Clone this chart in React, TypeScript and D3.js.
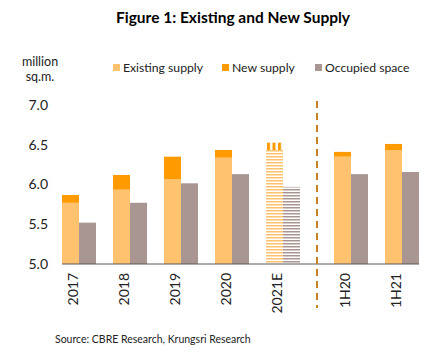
import React from "react";
import * as d3 from "d3";

const categories = ["2017", "2018", "2019", "2020", "2021E", "1H20", "1H21"];
const existingSupply = [5.77, 5.935, 6.065, 6.337, 6.434, 6.35, 6.434];
const totalSupply = [5.868, 6.12, 6.35, 6.434, 6.526, 6.41, 6.51];
const occupiedSpace = [5.52, 5.77, 6.015, 6.13, 5.97, 6.13, 6.157];
const estimateCategory = "2021E";
const halfYearCategories = ["1H20", "1H21"];
const yTicks = [5.0, 5.5, 6.0, 6.5, 7.0];
const legendItems = ["Existing supply", "New supply", "Occupied space"];

const C_EXIST = "#FFC26E";
const C_NEW = "#FF9A00";
const C_OCC = "#A99592";
const FONT = "Lato, 'Open Sans', sans-serif";

export default function App() {
  const W = 435;
  const H = 353;
  const y = d3.scaleLinear().domain([5, 7]).range([264, 105]);
  const band = d3
    .scaleBand<string>()
    .domain(categories)
    .range([62, 402])
    .paddingInner(1 / 3)
    .paddingOuter(0);
  const step = band.step();
  const gap = step / 3;
  const xg = (c: string) => (band(c) as number) + (halfYearCategories.includes(c) ? gap : 0);
  const bw = band.bandwidth() / 2;
  const dividerX = (band(halfYearCategories[0]) as number) - step / 3 + gap;

  return (
    <svg width={W} height={H} style={{ position: "absolute", left: 0, top: 0, background: "#fff" }}>
      <defs>
        <pattern id="hExist" width="4" height="3" patternUnits="userSpaceOnUse">
          <rect width="4" height="3" fill="#fff" />
          <rect width="4" height="1.5" fill={C_EXIST} />
        </pattern>
        <pattern id="hOcc" width="4" height="3" patternUnits="userSpaceOnUse">
          <rect width="4" height="3" fill="#fff" />
          <rect width="4" height="1.5" fill={C_OCC} />
        </pattern>
        <pattern id="vNew" width="5.5" height="4" patternUnits="userSpaceOnUse" x={xg(estimateCategory) + 1}>
          <rect width="5.5" height="4" fill="#fff" />
          <rect width="3" height="4" fill={C_NEW} />
        </pattern>
      </defs>
      <text x={233} y={23} textAnchor="middle" fontFamily={FONT} fontWeight="bold" fontSize={15.5} fill="#000">
        Figure 1: Existing and New Supply
      </text>
      <text x={40} y={66} textAnchor="middle" fontFamily={FONT} fontSize={12.5} fill="#222">
        million
      </text>
      <text x={40} y={81} textAnchor="middle" fontFamily={FONT} fontSize={12.5} fill="#222">
        sq.m.
      </text>
      {legendItems.map((l, i) => {
        const lx = [113, 222, 315][i];
        const col = [C_EXIST, C_NEW, C_OCC][i];
        return (
          <g key={l}>
            <rect x={lx} y={64} width={7} height={7} fill={col} />
            <text x={lx + 10} y={72} fontFamily={FONT} fontSize={12.2} fill="#222">
              {l}
            </text>
          </g>
        );
      })}
      {yTicks.map((t) => (
        <text key={t} x={48} y={y(t)} dy="0.35em" textAnchor="end" fontFamily={FONT} fontSize={14} fill="#222">
          {t.toFixed(1)}
        </text>
      ))}
      {categories.map((c, i) => {
        const x0 = xg(c);
        const est = c === estimateCategory;
        return (
          <g key={c}>
            <rect
              x={x0}
              y={y(existingSupply[i])}
              width={bw}
              height={y(5) - y(existingSupply[i])}
              fill={est ? "url(#hExist)" : C_EXIST}
            />
            <rect
              x={x0}
              y={y(totalSupply[i])}
              width={bw}
              height={y(existingSupply[i]) - y(totalSupply[i])}
              fill={est ? "url(#vNew)" : C_NEW}
            />
            <rect
              x={x0 + bw}
              y={y(occupiedSpace[i])}
              width={bw}
              height={y(5) - y(occupiedSpace[i])}
              fill={est ? "url(#hOcc)" : C_OCC}
            />
            <text
              transform={`translate(${x0 + 10},273) rotate(-90)`}
              textAnchor="end"
              dominantBaseline="central"
              fontFamily={FONT}
              fontSize={14}
              fill="#222"
            >
              {c}
            </text>
          </g>
        );
      })}
      <line x1={62} x2={419} y1={y(5)} y2={y(5)} stroke="#595959" strokeWidth={1} />
      <line
        x1={dividerX}
        x2={dividerX}
        y1={101}
        y2={308}
        stroke="#C5821F"
        strokeWidth={2}
        strokeDasharray="7 5"
      />
      <text x={55} y={343} fontFamily={FONT} fontSize={10.5} fill="#222">
        Source: CBRE Research, Krungsri Research
      </text>
    </svg>
  );
}
